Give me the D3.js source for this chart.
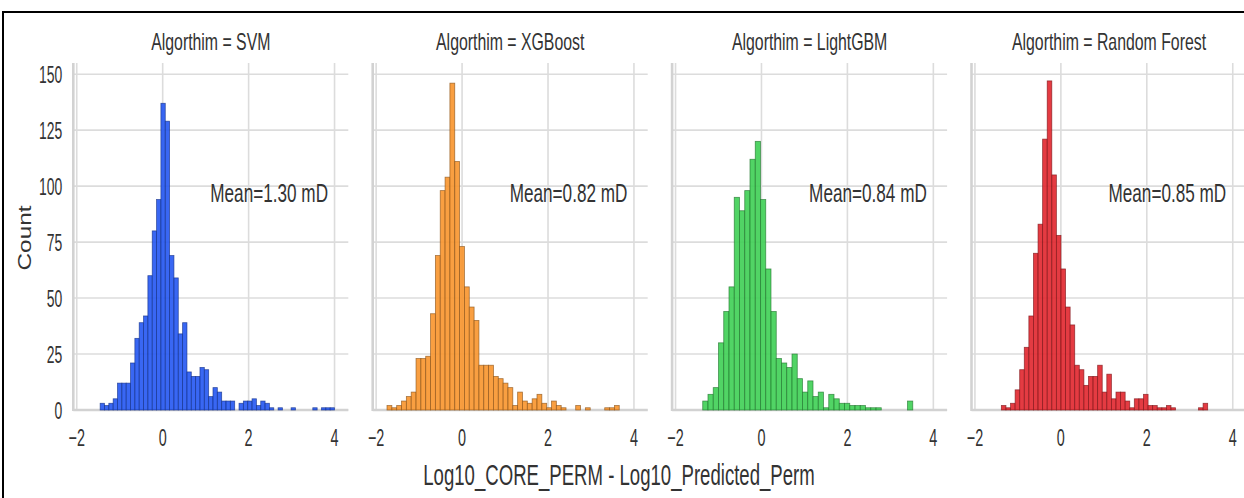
<!DOCTYPE html>
<html>
<head>
<meta charset="utf-8">
<script src="https://cdn.jsdelivr.net/npm/d3@7"></script>
<style>
  html, body { margin: 0; padding: 0; background: #ffffff; }
  svg { display: block; }
  text { font-family: "Liberation Sans", Arial, "DejaVu Sans", sans-serif; fill: #333333; }
</style>
</head>
<body>
<svg id="chart" width="1244" height="498"></svg>
<script>
// Facet names and the annotation shown in each facet
const algorithms = ["SVM", "XGBoost", "LightGBM", "Random Forest"];
const meanLabels = ["Mean=1.30 mD", "Mean=0.82 mD", "Mean=0.84 mD", "Mean=0.85 mD"];
const colors = ["#2357f2", "#f8952c", "#3ecf54", "#e1262e"];

// Histogram bins: first edge and width for each algorithm
const binStarts = [-1.455, -1.747, -1.367, -1.385];
const binWidths = [0.101, 0.1126, 0.1222, 0.1067];

// Counts per bin
const svmCounts = [3, 2, 3, 5, 12, 12, 12, 21, 32, 39, 42, 60, 80, 94, 137, 129, 69, 59, 34, 39,
  17, 15, 15, 19, 18, 6, 10, 8, 4, 4, 4, 0, 3, 4, 4, 5, 2, 4, 3, 1,
  0, 1, 0, 0, 1, 0, 0, 0, 0, 1, 0, 1, 1, 1];
const xgbCounts = [2, 1, 2, 4, 6, 8, 23, 23, 24, 43, 69, 98, 104, 146, 111, 73, 55, 46, 40, 20,
  20, 20, 15, 14, 12, 10, 2, 8, 4, 3, 5, 7, 3, 1, 4, 2, 1, 0, 0, 2,
  0, 1, 0, 0, 0, 1, 1, 2];
const lgbmCounts = [4, 7, 10, 30, 44, 55, 95, 89, 98, 112, 120, 94, 63, 44, 23, 21, 19, 25, 14, 8,
  13, 6, 8, 1, 7, 5, 3, 3, 2, 2, 2, 1, 1, 1, 0, 0, 0, 0, 0, 4];
const rfCounts = [2, 1, 3, 9, 18, 28, 42, 70, 83, 121, 147, 105, 78, 63, 46, 38, 20, 18, 11, 15,
  15, 20, 8, 16, 5, 8, 8, 4, 1, 5, 5, 7, 2, 2, 1, 1, 2, 1, 0, 0,
  0, 0, 0, 1, 3];
const countsByAlgorithm = [svmCounts, xgbCounts, lgbmCounts, rfCounts];

const xTicks = [-2, 0, 2, 4];
const yTicks = [0, 25, 50, 75, 100, 125, 150];
const xAxisTitle = "Log10_CORE_PERM - Log10_Predicted_Perm";
const yAxisTitle = "Count";

// ---- layout ----
const svg = d3.select("#chart");
const panelTop = 63, panelBottom = 410, panelW = 275;
const firstLeft = 73.3, panelStep = 299.4;
const gridColor = "#dcdcdc";

const x = d3.scaleLinear().domain([-2.08, 4.32]).range([0, panelW]);
const y = d3.scaleLinear().domain([0, 155]).range([panelBottom, panelTop]);

// Text helper: glyphs are drawn slightly condensed horizontally
function label(parent, px, py, str, opts) {
  const o = Object.assign({ size: 24, sx: 0.65, anchor: "middle", baseline: "central", rotate: 0 }, opts || {});
  return parent.append("text")
    .attr("transform", `translate(${px},${py}) scale(${o.sx},1)` + (o.rotate ? ` rotate(${o.rotate})` : ""))
    .attr("text-anchor", o.anchor)
    .attr("dominant-baseline", o.baseline)
    .style("font-size", o.size + "px")
    .text(str);
}

// outer frame
svg.append("rect")
  .attr("x", 3).attr("y", 12).attr("width", 1260).attr("height", 520)
  .attr("fill", "none").attr("stroke", "#000").attr("stroke-width", 2);

algorithms.forEach((alg, i) => {
  const left = firstLeft + i * panelStep;
  const g = svg.append("g").attr("transform", `translate(${left},0)`);

  // grid
  g.selectAll("line.hgrid").data(yTicks).join("line")
    .attr("class", "hgrid")
    .attr("x1", 0).attr("x2", panelW)
    .attr("y1", d => y(d)).attr("y2", d => y(d))
    .attr("stroke", gridColor).attr("stroke-width", 1.6);
  g.selectAll("line.vgrid").data(xTicks).join("line")
    .attr("class", "vgrid")
    .attr("x1", d => x(d)).attr("x2", d => x(d))
    .attr("y1", panelTop).attr("y2", panelBottom)
    .attr("stroke", gridColor).attr("stroke-width", 1.6);

  // spines (left and bottom)
  g.append("line").attr("x1", 0).attr("x2", 0).attr("y1", panelTop).attr("y2", panelBottom + 1)
    .attr("stroke", "#d2d2d2").attr("stroke-width", 2.6);
  g.append("line").attr("x1", 0).attr("x2", panelW).attr("y1", panelBottom).attr("y2", panelBottom)
    .attr("stroke", "#d2d2d2").attr("stroke-width", 2.6);

  // bars
  const counts = countsByAlgorithm[i];
  const bins = counts.map((c, k) => ({
    x0: binStarts[i] + k * binWidths[i],
    x1: binStarts[i] + (k + 1) * binWidths[i],
    count: c
  })).filter(b => b.count > 0);

  g.selectAll("rect.bar").data(bins).join("rect")
    .attr("class", "bar")
    .attr("x", d => x(d.x0))
    .attr("width", d => x(d.x1) - x(d.x0))
    .attr("y", d => y(d.count))
    .attr("height", d => y(0) - y(d.count))
    .attr("fill", colors[i])
    .attr("fill-opacity", 0.9)
    .attr("stroke", d3.color(colors[i]).darker(1.6))
    .attr("stroke-opacity", 0.75)
    .attr("stroke-width", 0.8);

  // facet title
  label(g, panelW / 2, 42, "Algorthim = " + alg, { size: 24, sx: 0.66 });

  // mean annotation
  label(g, 137, 193, meanLabels[i], { size: 26.4, sx: 0.65, anchor: "start" });

  // x tick labels
  xTicks.forEach(t => {
    label(g, x(t), 437.5, t < 0 ? "\u2212" + Math.abs(t) : String(t), { size: 24, sx: 0.6 });
  });

  // y tick labels (first facet only)
  if (i === 0) {
    yTicks.forEach(t => {
      label(g, -11, y(t), String(t), { size: 24, sx: 0.58, anchor: "end" });
    });
  }
});

// axis titles
label(svg, 25, 238, yAxisTitle, { size: 24.4, sx: 0.74, rotate: -90 });
label(svg, 619, 475, xAxisTitle, { size: 28.6, sx: 0.65 });
</script>
</body>
</html>
